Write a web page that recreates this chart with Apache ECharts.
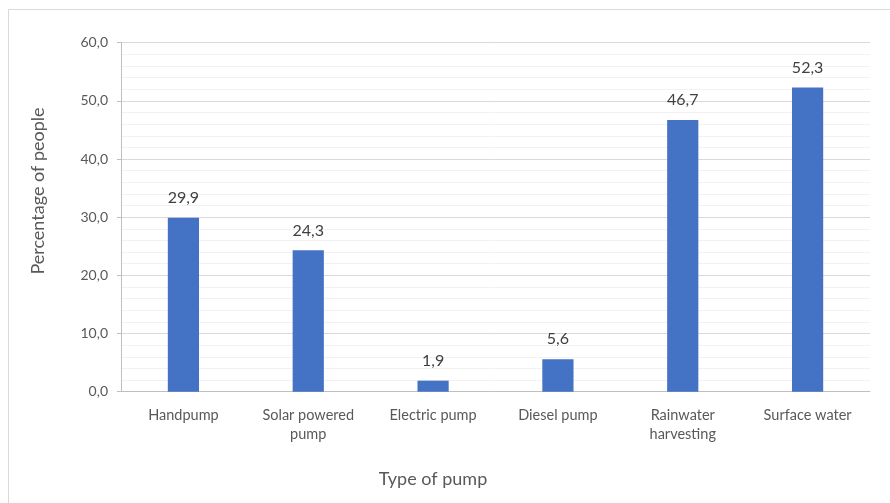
<!DOCTYPE html>
<html>
<head>
<meta charset="utf-8">
<script src="https://cdn.jsdelivr.net/npm/echarts@6/dist/echarts.min.js"></script>
<style>
  html, body { margin: 0; padding: 0; background: #ffffff; }
  #chart { width: 890px; height: 503px; }
</style>
</head>
<body>
<div id="chart"></div>
<script>
// Pump types and share of people using each
const categories = ['Handpump', 'Solar powered\npump', 'Electric pump', 'Diesel pump', 'Rainwater\nharvesting', 'Surface water'];
const percentages = [29.9, 24.3, 1.9, 5.6, 46.7, 52.3];
const yTicks = { min: 0, max: 60, interval: 10 };
const xTitle = 'Type of pump';
const yTitle = 'Percentage of people';

const fmt = v => v.toFixed(1).replace('.', ',');
const FONT = 'Lato, "Open Sans", sans-serif';

const chart = echarts.init(document.getElementById('chart'), null, { renderer: 'canvas' });
chart.setOption({
  animation: false,
  backgroundColor: '#ffffff',
  graphic: [
    {
      type: 'rect',
      shape: { x: 8.5, y: 9.5, width: 900, height: 600 },
      style: { fill: 'none', stroke: '#d9d9d9', lineWidth: 1 },
      silent: true
    },
    {
      // axis titles placed freely, as in the source layout
      type: 'text',
      x: 433, y: 479,
      style: { text: xTitle, fontFamily: FONT, fontSize: 18, fill: '#595959', align: 'center', verticalAlign: 'middle' },
      silent: true
    },
    {
      type: 'text',
      x: 38, y: 191,
      rotation: Math.PI / 2,
      style: { text: yTitle, fontFamily: FONT, fontSize: 18, fill: '#595959', align: 'center', verticalAlign: 'middle' },
      silent: true
    }
  ],
  grid: { left: 121, top: 42.7, right: 20, bottom: 111.3, containLabel: false },
  xAxis: {
    type: 'category',
    data: categories,
    axisLine: { show: true, lineStyle: { color: '#bfbfbf', width: 1 } },
    axisTick: { show: false },
    axisLabel: { fontFamily: FONT, fontSize: 14.5, color: '#595959', margin: 14, lineHeight: 19, interval: 0 },
    splitLine: { show: false }
  },
  yAxis: {
    type: 'value',
    min: yTicks.min,
    max: yTicks.max,
    interval: yTicks.interval,
    axisLine: { show: true, lineStyle: { color: '#bfbfbf', width: 1 } },
    axisTick: { show: true, length: 4, lineStyle: { color: '#bfbfbf' } },
    axisLabel: { fontFamily: FONT, fontSize: 14, color: '#595959', margin: 13, formatter: fmt },
    splitLine: { show: true, lineStyle: { color: '#d9d9d9', width: 1 } },
    minorTick: { show: false, splitNumber: 5 },
    minorSplitLine: { show: true, lineStyle: { color: '#f2f2f2', width: 1 } }
  },
  series: [{
    type: 'bar',
    data: percentages,
    barWidth: '25%',
    itemStyle: { color: '#4472c4' },
    label: {
      show: true,
      position: 'top',
      distance: 12,
      formatter: p => fmt(p.value),
      fontFamily: FONT,
      fontSize: 16,
      color: '#404040'
    }
  }]
});
</script>
</body>
</html>
